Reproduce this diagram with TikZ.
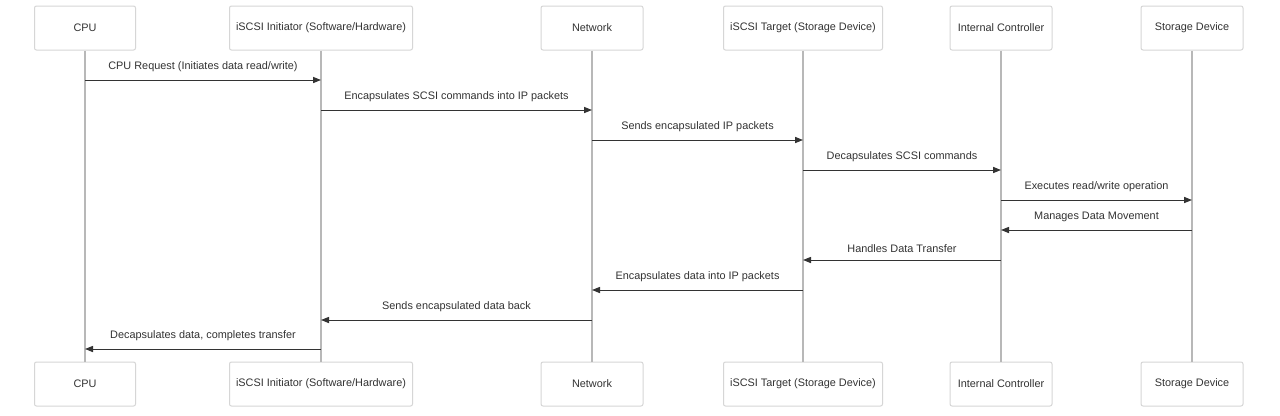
\documentclass[tikz,border=0pt]{standalone}
\usepackage{fontspec}
\setmainfont{Liberation Sans}
\usetikzlibrary{arrows.meta}
\definecolor{boxline}{HTML}{D6D6D6}
\definecolor{lifeline}{HTML}{B8B8B8}
\definecolor{msgcol}{HTML}{333333}
\definecolor{txtcol}{HTML}{333333}
\tikzset{
  actor/.style={draw=boxline, line width=0.75pt, rounded corners=1.5pt, fill=white,
    minimum height=44*0.75pt, inner sep=0pt, text=txtcol,
    font=\fontsize{8.16pt}{10pt}\selectfont},
  life/.style={draw=lifeline, line width=0.95pt},
  msg/.style={draw=msgcol, line width=0.75pt, -{Triangle[length=6pt,width=4.6pt]}},
  lbl/.style={text=txtcol, font=\fontsize{8.16pt}{10pt}\selectfont, inner sep=0pt}
}
\begin{document}
\begin{tikzpicture}[x=0.75pt,y=-0.75pt]
\useasboundingbox[fill=white] (0,0) rectangle (1280,415);
% top actors
\node[actor, minimum width=101*0.75pt] (cpuT) at (85,28) {CPU};
\node[actor, minimum width=183*0.75pt] (iniT) at (321,28) {iSCSI Initiator (Software/Hardware)};
\node[actor, minimum width=102*0.75pt] (netT) at (592,28) {Network};
\node[actor, minimum width=159*0.75pt] (tgtT) at (803,28) {iSCSI Target (Storage Device)};
\node[actor, minimum width=102*0.75pt] (ctlT) at (1001,28) {Internal Controller};
\node[actor, minimum width=102*0.75pt] (stoT) at (1192,28) {Storage Device};
% bottom actors
\node[actor, minimum width=101*0.75pt] (cpuB) at (85,384) {CPU};
\node[actor, minimum width=183*0.75pt] (iniB) at (321,384) {iSCSI Initiator (Software/Hardware)};
\node[actor, minimum width=102*0.75pt] (netB) at (592,384) {Network};
\node[actor, minimum width=159*0.75pt] (tgtB) at (803,384) {iSCSI Target (Storage Device)};
\node[actor, minimum width=102*0.75pt] (ctlB) at (1001,384) {Internal Controller};
\node[actor, minimum width=102*0.75pt] (stoB) at (1192,384) {Storage Device};
% lifelines
\foreach \a in {cpu,ini,net,tgt,ctl,sto}{
  \draw[life] (\a T.south) -- (\a B.north);
}
% message anchor coordinates
\foreach \a/\x in {cpu/85,ini/321,net/592,tgt/803,ctl/1001,sto/1192}{
  \foreach \i/\y in {1/80,2/110,3/140,4/170,5/200,6/230,7/260,8/290,9/320,10/349}{
    \coordinate (\a\i) at (\x,\y);
  }
}
\draw[msg] (cpu1) -- node[lbl, above=5.5pt] {CPU Request (Initiates data read/write)} (ini1);
\draw[msg] (ini2) -- node[lbl, above=5.5pt] {Encapsulates SCSI commands into IP packets} (net2);
\draw[msg] (net3) -- node[lbl, above=5.5pt] {Sends encapsulated IP packets} (tgt3);
\draw[msg] (tgt4) -- node[lbl, above=5.5pt] {Decapsulates SCSI commands} (ctl4);
\draw[msg] (ctl5) -- node[lbl, above=5.5pt] {Executes read/write operation} (sto5);
\draw[msg] (sto6) -- node[lbl, above=5.5pt] {Manages Data Movement} (ctl6);
\draw[msg] (ctl7) -- node[lbl, above=5.5pt] {Handles Data Transfer} (tgt7);
\draw[msg] (tgt8) -- node[lbl, above=5.5pt] {Encapsulates data into IP packets} (net8);
\draw[msg] (net9) -- node[lbl, above=5.5pt] {Sends encapsulated data back} (ini9);
\draw[msg] (ini10) -- node[lbl, above=5.5pt] {Decapsulates data, completes transfer} (cpu10);
\end{tikzpicture}
\end{document}
